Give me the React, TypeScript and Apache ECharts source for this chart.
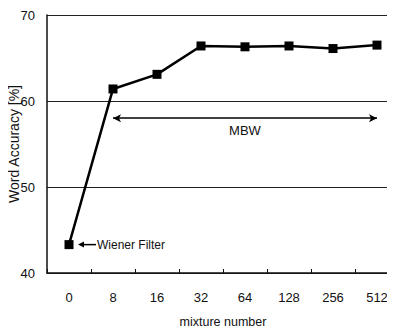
import React, { useEffect, useRef } from "react";
import * as echarts from "echarts";

const categories = ["0", "8", "16", "32", "64", "128", "256", "512"];
const accuracy = [43.3, 61.4, 63.1, 66.4, 66.3, 66.4, 66.1, 66.5];
const mbwRange = ["8", "512"];
const mbwLevel = 58.0;
const FONT = "'Liberation Sans Narrow', 'Liberation Sans', Arial, sans-serif";

export default function App() {
  const ref = useRef<HTMLDivElement>(null);
  useEffect(() => {
    const chart = echarts.init(ref.current!, null, { renderer: "svg" });
    chart.setOption({
      animation: false,
      backgroundColor: "#fff",
      grid: { left: 47, right: -4, top: 15, bottom: 56, outerBoundsMode: "none", containLabel: false },
      xAxis: {
        type: "category",
        data: categories,
        boundaryGap: true,
        name: "mixture number",
        nameLocation: "middle",
        nameGap: 42,
        nameMoveOverlap: false,
        nameTextStyle: { color: "#111", fontSize: 12.5, fontFamily: FONT },
        axisLine: { lineStyle: { color: "#111", width: 1.5 } },
        axisTick: { show: true, inside: true, length: 4, lineStyle: { color: "#111" } },
        axisLabel: { color: "#111", fontSize: 13, fontFamily: FONT, margin: 18 },
        splitLine: { show: false },
      },
      yAxis: {
        type: "value",
        min: 40,
        max: 70,
        interval: 10,
        name: "Word Accuracy [%]",
        nameLocation: "middle",
        nameGap: 26,
        nameMoveOverlap: false,
        nameTextStyle: { color: "#111", fontSize: 14, fontFamily: "'Liberation Sans', Arial, sans-serif" },
        axisLine: { show: true, lineStyle: { color: "#111", width: 1.5 } },
        axisTick: { show: false },
        axisLabel: { color: "#111", fontSize: 13, fontFamily: FONT, margin: 12 },
        splitLine: { show: true, lineStyle: { color: "#222", width: 1 } },
      },
      series: [
        {
          type: "line",
          data: accuracy,
          symbol: "rect",
          symbolSize: 9,
          lineStyle: { color: "#000", width: 2.5 },
          itemStyle: { color: "#000" },
          markLine: {
            silent: true,
            symbol: ["arrow", "arrow"],
            symbolSize: [6, 8],
            lineStyle: { color: "#000", width: 1.5, type: "solid" },
            label: {
              show: true,
              position: "insideMiddleBottom",
              formatter: "MBW",
              color: "#111",
              fontSize: 13,
              fontFamily: FONT,
              distance: 6,
            },
            data: [[{ coord: [mbwRange[0], mbwLevel] }, { coord: [mbwRange[1], mbwLevel] }]],
          },
        },
      ],
    });
    const p = chart.convertToPixel({ xAxisIndex: 0, yAxisIndex: 0 }, [categories[0], accuracy[0]]) as number[];
    const x0 = p[0] + 9;
    const y0 = p[1];
    chart.setOption({
      graphic: [
        { type: "line", shape: { x1: x0 + 4, y1: y0, x2: x0 + 18, y2: y0 }, style: { stroke: "#000", lineWidth: 1.5 } },
        { type: "polygon", shape: { points: [[x0, y0], [x0 + 6, y0 - 3], [x0 + 6, y0 + 3]] }, style: { fill: "#000" } },
        {
          type: "text",
          x: x0 + 19,
          y: y0,
          style: { text: "Wiener Filter", fill: "#111", font: `12px ${FONT}`, verticalAlign: "middle" },
        },
      ],
    });
    return () => chart.dispose();
  }, []);
  return <div ref={ref} style={{ width: 395, height: 329, marginLeft: -8, marginTop: -8 }} />;
}
